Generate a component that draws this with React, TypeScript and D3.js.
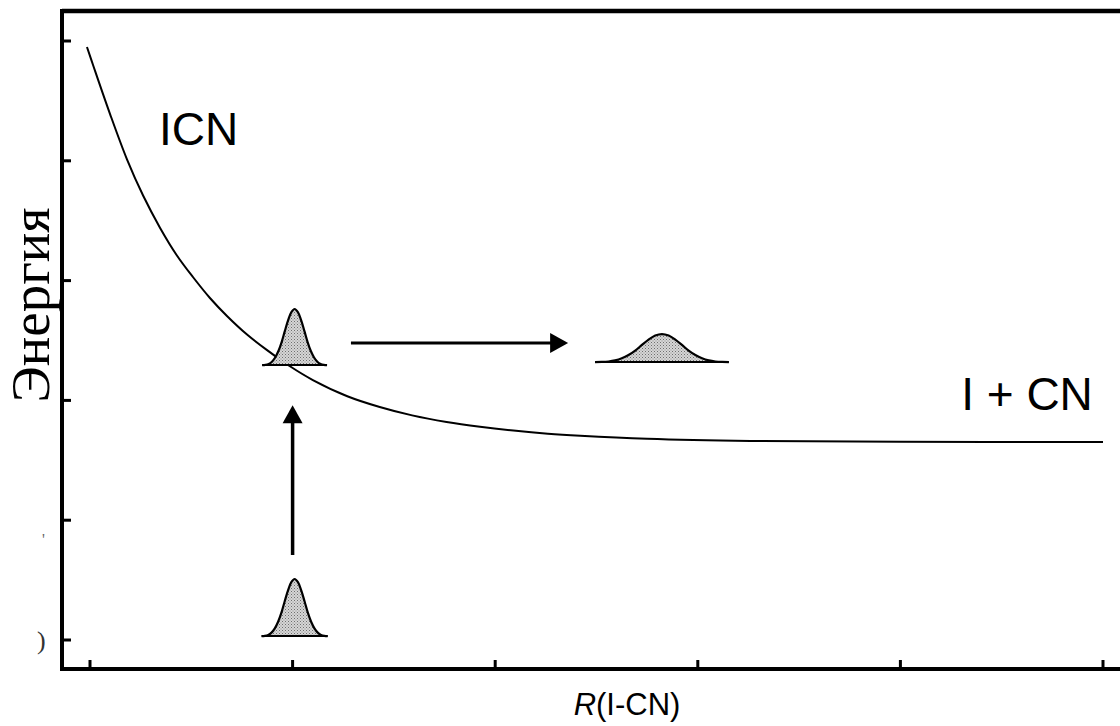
import React from "react";
import * as d3 from "d3";

// Potential curve V(R) (arbitrary units)
const rValues = [-0.015, 0.015, 0.099, 0.183, 0.262, 0.346, 0.429, 0.508, 0.592, 0.676, 0.775, 0.874, 0.987, 1.1, 1.27, 1.43, 1.59, 1.76, 1.925, 2.09, 2.26, 2.42, 2.75, 3.26, 4.0, 5.0];
const energyValues = [4.95, 4.8, 4.39, 4.01, 3.71, 3.44, 3.21, 3.03, 2.855, 2.705, 2.55, 2.42, 2.285, 2.17, 2.035, 1.945, 1.875, 1.82, 1.78, 1.748, 1.722, 1.705, 1.68, 1.662, 1.655, 1.653];

const xTickValues = [0, 1, 2, 3, 4, 5];
const yTickValues = [0, 1, 2, 3, 4, 5];

// Wave packets: centre (R), baseline (E), peak height (E), half width of baseline (R)
const packetCenters = [1.01, 2.823, 1.01];
const packetBaselines = [2.295, 2.32, 0.033];
const packetHeights = [0.468, 0.234, 0.476];
const packetHalfWidths = [0.16, 0.33, 0.163];

// Normalised packet profile (offset as fraction of half width, relative height)
const profileOffsets = [-1, -0.9, -0.8, -0.7, -0.6, -0.5, -0.4, -0.3, -0.2, -0.1, 0, 0.1, 0.2, 0.3, 0.4, 0.5, 0.6, 0.7, 0.8, 0.9, 1];
const profileHeights = [0, 0.004, 0.02, 0.06, 0.135, 0.25, 0.41, 0.61, 0.8, 0.946, 1, 0.946, 0.8, 0.61, 0.41, 0.25, 0.135, 0.06, 0.02, 0.004, 0];

// Arrows
const excitationR = [1.0, 1.0];
const excitationE = [0.71, 1.96];
const dissociationR = [1.288, 2.36];
const dissociationE = [2.48, 2.48];

const labels = ["ICN", "I + CN"];
const labelR = [0.34, 4.3];
const labelE = [4.132, 1.92];

const W = 1120;
const H = 726;

export default function App() {
  const frame = { left: 62, right: 1120, top: 11, bottom: 669 };
  const x = d3.scaleLinear().domain([0, 5]).range([90, 1103]);
  const y = d3.scaleLinear().domain([0, 5]).range([640, 41]);

  const curve = d3
    .line<number>()
    .x((_, i) => x(rValues[i]))
    .y((_, i) => y(energyValues[i]))
    .curve(d3.curveCatmullRom.alpha(0.5))(rValues);

  const packets = packetCenters.map((c, k) => {
    const hw = packetHalfWidths[k];
    const area = d3
      .area<number>()
      .x((o) => x(c + o * hw))
      .y0(y(packetBaselines[k]))
      .y1((_, i) => y(packetBaselines[k] + profileHeights[i] * packetHeights[k]))
      .curve(d3.curveCatmullRom)(profileOffsets);
    const outline = d3
      .line<number>()
      .x((o) => x(c + o * hw))
      .y((_, i) => y(packetBaselines[k] + profileHeights[i] * packetHeights[k]))
      .curve(d3.curveCatmullRom)(profileOffsets);
    return { area, outline, x0: x(c - hw), x1: x(c + hw), yb: y(packetBaselines[k]) };
  });

  const headLen = 18;
  const headHalf = 10;
  const hx0 = x(dissociationR[0]);
  const hx1 = x(dissociationR[1]);
  const hy = y(dissociationE[0]);
  const vx = x(excitationR[0]);
  const vy0 = y(excitationE[0]);
  const vy1 = y(excitationE[1]);

  return (
    <svg width={W} height={H} style={{ position: "absolute", left: 0, top: 0, background: "#fff" }}>
      <defs>
        <pattern id="stip" width="3" height="3" patternUnits="userSpaceOnUse">
          <rect width="3" height="3" fill="#d6d6d6" />
          <rect x="0" y="0" width="1" height="1" fill="#6f6f6f" />
          <rect x="1.5" y="1.5" width="1" height="1" fill="#8a8a8a" />
        </pattern>
      </defs>

      {/* frame */}
      <line x1={frame.left} x2={frame.right} y1={frame.top} y2={frame.top} stroke="#000" strokeWidth={4.5} />
      <line x1={frame.left} x2={frame.left} y1={frame.top - 2} y2={frame.bottom + 2} stroke="#000" strokeWidth={4} />
      <line x1={frame.left} x2={frame.right} y1={frame.bottom} y2={frame.bottom} stroke="#000" strokeWidth={4} />

      {/* y ticks */}
      {yTickValues.map((v) => (
        <line key={"yt" + v} x1={frame.left} x2={frame.left + 9} y1={y(v)} y2={y(v)} stroke="#000" strokeWidth={3} />
      ))}
      {/* x ticks */}
      {xTickValues.map((v) => (
        <line key={"xt" + v} x1={x(v)} x2={x(v)} y1={frame.bottom} y2={frame.bottom - 9} stroke="#000" strokeWidth={3} />
      ))}

      {/* clipped tick-label remnants */}
      <text x={37} y={649} fontFamily="Liberation Serif, serif" fontSize={26} fill="#333">)</text>
      <text x={42} y={545} fontFamily="Liberation Serif, serif" fontSize={16} fill="#666">'</text>

      {/* potential curve */}
      <path d={curve || ""} fill="none" stroke="#000" strokeWidth={2} />

      {/* wave packets */}
      {packets.map((p, k) => (
        <g key={"pk" + k}>
          <path d={p.area || ""} fill="url(#stip)" stroke="none" />
          <path d={p.outline || ""} fill="none" stroke="#000" strokeWidth={2.2} />
          <line x1={p.x0} x2={p.x1} y1={p.yb} y2={p.yb} stroke="#000" strokeWidth={2} />
        </g>
      ))}

      {/* dissociation arrow */}
      <line x1={hx0} x2={hx1 - headLen + 2} y1={hy} y2={hy} stroke="#000" strokeWidth={3} />
      <path d={`M${hx1},${hy} L${hx1 - headLen},${hy - headHalf} L${hx1 - headLen},${hy + headHalf} Z`} fill="#000" />

      {/* excitation arrow */}
      <line x1={vx} x2={vx} y1={vy0} y2={vy1 + headLen - 2} stroke="#000" strokeWidth={3.5} />
      <path d={`M${vx},${vy1} L${vx - headHalf},${vy1 + headLen} L${vx + headHalf},${vy1 + headLen} Z`} fill="#000" />

      {/* labels */}
      {labels.map((t, i) => (
        <text key={t} x={x(labelR[i])} y={y(labelE[i])} fontFamily="Liberation Sans, Arial, sans-serif" fontSize={46} fill="#000">
          {t}
        </text>
      ))}

      {/* axis titles */}
      <text x={627} y={715} textAnchor="middle" fontFamily="Liberation Sans, Arial, sans-serif" fontSize={31} fill="#000">
        <tspan fontStyle="italic">R</tspan>(I-CN)
      </text>
      <text transform="translate(49,305) rotate(-90)" textAnchor="middle" fontFamily="Liberation Serif, Times New Roman, serif" fontSize={55} fill="#000">
        Энергия
      </text>
    </svg>
  );
}
